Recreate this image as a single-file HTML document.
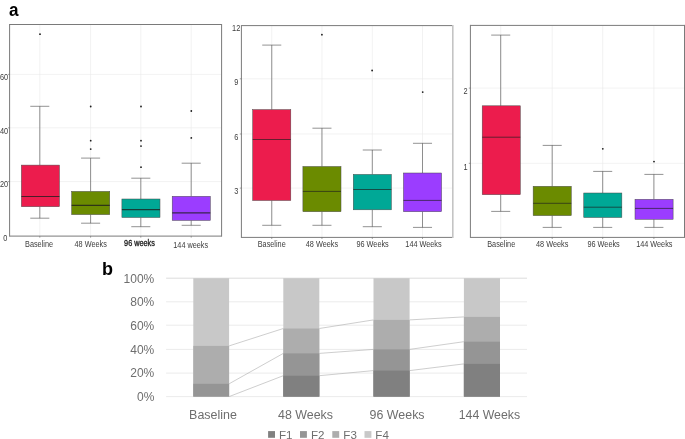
<!DOCTYPE html>
<html><head><meta charset="utf-8"><title>Figure</title>
<style>
html,body{margin:0;padding:0;background:#fff;}
body{width:685px;height:439px;overflow:hidden;position:relative;font-family:"Liberation Sans",sans-serif;}
svg{position:absolute;left:0;top:0;display:block;}
.bx text{font-family:"Liberation Sans",sans-serif;font-size:8.2px;fill:#3c3c3c;}
.bar text{font-family:"Liberation Sans",sans-serif;font-size:12.3px;fill:#6e6e6e;}
.bar text.yl{font-size:12px;}
.bar text.lg{font-size:11.6px;}
text.pl{font-family:"Liberation Sans",sans-serif;font-weight:bold;font-size:18px;fill:#000;}
</style></head><body>
<svg width="685" height="439" viewBox="0 0 685 439">
<rect width="685" height="439" fill="#fff"/>
<text class="pl" transform="translate(8.9,15.8) scale(0.9,1)" style="font-size:19px">a</text>
<text class="pl" x="102" y="275.2">b</text>
<g class="bx">
<line x1="9.6" y1="74.4" x2="221.6" y2="74.4" stroke="#e9e9e9" stroke-width="0.6"/>
<line x1="9.6" y1="127.8" x2="221.6" y2="127.8" stroke="#e9e9e9" stroke-width="0.6"/>
<line x1="9.6" y1="181.6" x2="221.6" y2="181.6" stroke="#e9e9e9" stroke-width="0.6"/>
<line x1="39.8" y1="24.5" x2="39.8" y2="236.1" stroke="#e9e9e9" stroke-width="0.6"/>
<line x1="90.6" y1="24.5" x2="90.6" y2="236.1" stroke="#e9e9e9" stroke-width="0.6"/>
<line x1="140.8" y1="24.5" x2="140.8" y2="236.1" stroke="#e9e9e9" stroke-width="0.6"/>
<line x1="191.2" y1="24.5" x2="191.2" y2="236.1" stroke="#e9e9e9" stroke-width="0.6"/>
<g stroke="#4f4f4f" stroke-width="0.62" fill="none"><line x1="39.8" y1="106.3" x2="39.8" y2="165.1"/><line x1="39.8" y1="206.7" x2="39.8" y2="218.2"/><line x1="30.27" y1="106.3" x2="49.32" y2="106.3"/><line x1="30.27" y1="218.2" x2="49.32" y2="218.2"/></g>
<rect x="21.35" y="165.1" width="38.1" height="41.60" fill="#EC1C4D" stroke="#4a4a4a" stroke-width="0.5"/>
<line x1="21.35" y1="196.5" x2="59.45" y2="196.5" stroke="#1e1e1e" stroke-opacity="0.78" stroke-width="1.15"/>
<g stroke="#4f4f4f" stroke-width="0.62" fill="none"><line x1="90.6" y1="158.1" x2="90.6" y2="191.4"/><line x1="90.6" y1="214.6" x2="90.6" y2="223.2"/><line x1="81.07" y1="158.1" x2="100.12" y2="158.1"/><line x1="81.07" y1="223.2" x2="100.12" y2="223.2"/></g>
<rect x="71.65" y="191.4" width="38.1" height="23.20" fill="#6B8B00" stroke="#4a4a4a" stroke-width="0.5"/>
<line x1="71.65" y1="205.3" x2="109.75" y2="205.3" stroke="#1e1e1e" stroke-opacity="0.78" stroke-width="1.15"/>
<g stroke="#4f4f4f" stroke-width="0.62" fill="none"><line x1="140.8" y1="178.2" x2="140.8" y2="199.0"/><line x1="140.8" y1="217.5" x2="140.8" y2="226.7"/><line x1="131.28" y1="178.2" x2="150.33" y2="178.2"/><line x1="131.28" y1="226.7" x2="150.33" y2="226.7"/></g>
<rect x="121.90" y="199.0" width="38.1" height="18.50" fill="#00A896" stroke="#4a4a4a" stroke-width="0.5"/>
<line x1="121.90" y1="209.6" x2="160.00" y2="209.6" stroke="#1e1e1e" stroke-opacity="0.78" stroke-width="1.15"/>
<g stroke="#4f4f4f" stroke-width="0.62" fill="none"><line x1="191.2" y1="163.2" x2="191.2" y2="196.3"/><line x1="191.2" y1="220.4" x2="191.2" y2="225.3"/><line x1="181.67" y1="163.2" x2="200.72" y2="163.2"/><line x1="181.67" y1="225.3" x2="200.72" y2="225.3"/></g>
<rect x="172.20" y="196.3" width="38.1" height="24.10" fill="#9B3DFF" stroke="#4a4a4a" stroke-width="0.5"/>
<line x1="172.20" y1="212.8" x2="210.30" y2="212.8" stroke="#1e1e1e" stroke-opacity="0.78" stroke-width="1.15"/>
<circle cx="40.0" cy="34.2" r="0.9" fill="#1c1c1c"/>
<circle cx="90.7" cy="106.5" r="0.9" fill="#1c1c1c"/>
<circle cx="90.7" cy="140.7" r="0.9" fill="#1c1c1c"/>
<circle cx="90.7" cy="149.1" r="0.9" fill="#1c1c1c"/>
<circle cx="141" cy="106.5" r="0.9" fill="#1c1c1c"/>
<circle cx="141" cy="140.7" r="0.9" fill="#1c1c1c"/>
<circle cx="141" cy="146.1" r="0.9" fill="#1c1c1c"/>
<circle cx="141" cy="167.2" r="0.9" fill="#1c1c1c"/>
<circle cx="191.3" cy="111" r="0.9" fill="#1c1c1c"/>
<circle cx="191.3" cy="137.9" r="0.9" fill="#1c1c1c"/>
<line x1="9.6" y1="24.5" x2="221.6" y2="24.5" stroke="#7a7a7a" stroke-width="1"/>
<line x1="9.6" y1="24.0" x2="9.6" y2="236.6" stroke="#7a7a7a" stroke-width="1"/>
<line x1="9.6" y1="236.1" x2="221.6" y2="236.1" stroke="#7a7a7a" stroke-width="1"/>
<line x1="221.6" y1="24.0" x2="221.6" y2="236.6" stroke="#7a7a7a" stroke-width="1.0"/>
<line x1="39.8" y1="236.1" x2="39.8" y2="237.7" stroke="#666" stroke-width="0.6"/>
<line x1="90.6" y1="236.1" x2="90.6" y2="237.7" stroke="#666" stroke-width="0.6"/>
<line x1="140.8" y1="236.1" x2="140.8" y2="237.7" stroke="#666" stroke-width="0.6"/>
<line x1="191.2" y1="236.1" x2="191.2" y2="237.7" stroke="#666" stroke-width="0.6"/>
<line x1="8.0" y1="74.4" x2="9.6" y2="74.4" stroke="#666" stroke-width="0.6"/>
<line x1="8.0" y1="127.8" x2="9.6" y2="127.8" stroke="#666" stroke-width="0.6"/>
<line x1="8.0" y1="181.6" x2="9.6" y2="181.6" stroke="#666" stroke-width="0.6"/>
<text transform="translate(39.0,246.8) scale(0.89,1)" text-anchor="middle" >Baseline</text>
<text transform="translate(90.7,246.8) scale(0.89,1)" text-anchor="middle" >48 Weeks</text>
<text transform="translate(139.5,246.4) scale(0.89,1)" text-anchor="middle" style="fill:#1a1a1a;stroke:#1a1a1a;stroke-width:0.3px">96 weeks</text>
<text transform="translate(190.7,247.5) scale(0.89,1)" text-anchor="middle" >144 weeks</text>
<text transform="translate(8.2,80.2) scale(0.9,1)" text-anchor="end">60</text>
<text transform="translate(8.2,133.6) scale(0.9,1)" text-anchor="end">40</text>
<text transform="translate(8.2,187.3) scale(0.9,1)" text-anchor="end">20</text>
<text transform="translate(7.4,240.5) scale(0.9,1)" text-anchor="end">0</text>
<line x1="241.4" y1="78.8" x2="452.8" y2="78.8" stroke="#e9e9e9" stroke-width="0.6"/>
<line x1="241.4" y1="134.0" x2="452.8" y2="134.0" stroke="#e9e9e9" stroke-width="0.6"/>
<line x1="241.4" y1="188.1" x2="452.8" y2="188.1" stroke="#e9e9e9" stroke-width="0.6"/>
<line x1="271.75" y1="25.6" x2="271.75" y2="237.4" stroke="#e9e9e9" stroke-width="0.6"/>
<line x1="321.95" y1="25.6" x2="321.95" y2="237.4" stroke="#e9e9e9" stroke-width="0.6"/>
<line x1="372.3" y1="25.6" x2="372.3" y2="237.4" stroke="#e9e9e9" stroke-width="0.6"/>
<line x1="422.5" y1="25.6" x2="422.5" y2="237.4" stroke="#e9e9e9" stroke-width="0.6"/>
<g stroke="#4f4f4f" stroke-width="0.62" fill="none"><line x1="271.75" y1="45.1" x2="271.75" y2="109.6"/><line x1="271.75" y1="200.5" x2="271.75" y2="225.3"/><line x1="262.23" y1="45.1" x2="281.27" y2="45.1"/><line x1="262.23" y1="225.3" x2="281.27" y2="225.3"/></g>
<rect x="252.70" y="109.6" width="38.1" height="90.90" fill="#EC1C4D" stroke="#4a4a4a" stroke-width="0.5"/>
<line x1="252.70" y1="139.5" x2="290.80" y2="139.5" stroke="#1e1e1e" stroke-opacity="0.78" stroke-width="0.85"/>
<g stroke="#4f4f4f" stroke-width="0.62" fill="none"><line x1="321.95" y1="128.2" x2="321.95" y2="166.5"/><line x1="321.95" y1="211.7" x2="321.95" y2="225.3"/><line x1="312.43" y1="128.2" x2="331.47" y2="128.2"/><line x1="312.43" y1="225.3" x2="331.47" y2="225.3"/></g>
<rect x="302.90" y="166.5" width="38.1" height="45.20" fill="#6B8B00" stroke="#4a4a4a" stroke-width="0.5"/>
<line x1="302.90" y1="191.4" x2="341.00" y2="191.4" stroke="#1e1e1e" stroke-opacity="0.78" stroke-width="0.85"/>
<g stroke="#4f4f4f" stroke-width="0.62" fill="none"><line x1="372.3" y1="150.0" x2="372.3" y2="174.4"/><line x1="372.3" y1="209.8" x2="372.3" y2="226.7"/><line x1="362.78" y1="150.0" x2="381.82" y2="150.0"/><line x1="362.78" y1="226.7" x2="381.82" y2="226.7"/></g>
<rect x="353.25" y="174.4" width="38.1" height="35.40" fill="#00A896" stroke="#4a4a4a" stroke-width="0.5"/>
<line x1="353.25" y1="189.5" x2="391.35" y2="189.5" stroke="#1e1e1e" stroke-opacity="0.78" stroke-width="0.85"/>
<g stroke="#4f4f4f" stroke-width="0.62" fill="none"><line x1="422.5" y1="143.3" x2="422.5" y2="173.0"/><line x1="422.5" y1="211.7" x2="422.5" y2="227.4"/><line x1="412.98" y1="143.3" x2="432.02" y2="143.3"/><line x1="412.98" y1="227.4" x2="432.02" y2="227.4"/></g>
<rect x="403.45" y="173.0" width="38.1" height="38.70" fill="#9B3DFF" stroke="#4a4a4a" stroke-width="0.5"/>
<line x1="403.45" y1="200.4" x2="441.55" y2="200.4" stroke="#1e1e1e" stroke-opacity="0.78" stroke-width="0.85"/>
<circle cx="321.9" cy="34.7" r="0.9" fill="#1c1c1c"/>
<circle cx="372.1" cy="70.5" r="0.9" fill="#1c1c1c"/>
<circle cx="422.7" cy="92.1" r="0.9" fill="#1c1c1c"/>
<line x1="241.4" y1="25.6" x2="452.8" y2="25.6" stroke="#7a7a7a" stroke-width="1"/>
<line x1="241.4" y1="25.1" x2="241.4" y2="237.9" stroke="#7a7a7a" stroke-width="1"/>
<line x1="241.4" y1="237.4" x2="452.8" y2="237.4" stroke="#7a7a7a" stroke-width="1"/>
<line x1="452.8" y1="25.1" x2="452.8" y2="237.9" stroke="#c4c4c4" stroke-width="1.6"/>
<line x1="271.75" y1="237.4" x2="271.75" y2="239.0" stroke="#666" stroke-width="0.6"/>
<line x1="321.95" y1="237.4" x2="321.95" y2="239.0" stroke="#666" stroke-width="0.6"/>
<line x1="372.3" y1="237.4" x2="372.3" y2="239.0" stroke="#666" stroke-width="0.6"/>
<line x1="422.5" y1="237.4" x2="422.5" y2="239.0" stroke="#666" stroke-width="0.6"/>
<line x1="239.8" y1="78.8" x2="241.4" y2="78.8" stroke="#666" stroke-width="0.6"/>
<line x1="239.8" y1="134.0" x2="241.4" y2="134.0" stroke="#666" stroke-width="0.6"/>
<line x1="239.8" y1="188.1" x2="241.4" y2="188.1" stroke="#666" stroke-width="0.6"/>
<text transform="translate(271.7,246.8) scale(0.89,1)" text-anchor="middle" >Baseline</text>
<text transform="translate(321.9,246.8) scale(0.89,1)" text-anchor="middle" >48 Weeks</text>
<text transform="translate(372.6,246.8) scale(0.89,1)" text-anchor="middle" >96 Weeks</text>
<text transform="translate(423.5,246.8) scale(0.89,1)" text-anchor="middle" >144 Weeks</text>
<text transform="translate(240.3,30.7) scale(0.9,1)" text-anchor="end">12</text>
<text transform="translate(238.3,85.4) scale(0.9,1)" text-anchor="end">9</text>
<text transform="translate(238.3,139.8) scale(0.9,1)" text-anchor="end">6</text>
<text transform="translate(238.3,194.3) scale(0.9,1)" text-anchor="end">3</text>
<line x1="470.4" y1="88.1" x2="684.5" y2="88.1" stroke="#e9e9e9" stroke-width="0.6"/>
<line x1="470.4" y1="163.3" x2="684.5" y2="163.3" stroke="#e9e9e9" stroke-width="0.6"/>
<line x1="500.7" y1="25.4" x2="500.7" y2="237.4" stroke="#e9e9e9" stroke-width="0.6"/>
<line x1="552.2" y1="25.4" x2="552.2" y2="237.4" stroke="#e9e9e9" stroke-width="0.6"/>
<line x1="602.7" y1="25.4" x2="602.7" y2="237.4" stroke="#e9e9e9" stroke-width="0.6"/>
<line x1="653.9" y1="25.4" x2="653.9" y2="237.4" stroke="#e9e9e9" stroke-width="0.6"/>
<g stroke="#4f4f4f" stroke-width="0.62" fill="none"><line x1="500.7" y1="35.1" x2="500.7" y2="105.8"/><line x1="500.7" y1="194.7" x2="500.7" y2="211.4"/><line x1="491.18" y1="35.1" x2="510.22" y2="35.1"/><line x1="491.18" y1="211.4" x2="510.22" y2="211.4"/></g>
<rect x="482.20" y="105.8" width="38.1" height="88.90" fill="#EC1C4D" stroke="#4a4a4a" stroke-width="0.5"/>
<line x1="482.20" y1="137.2" x2="520.30" y2="137.2" stroke="#1e1e1e" stroke-opacity="0.78" stroke-width="0.85"/>
<g stroke="#4f4f4f" stroke-width="0.62" fill="none"><line x1="552.2" y1="145.4" x2="552.2" y2="186.3"/><line x1="552.2" y1="215.6" x2="552.2" y2="227.4"/><line x1="542.68" y1="145.4" x2="561.73" y2="145.4"/><line x1="542.68" y1="227.4" x2="561.73" y2="227.4"/></g>
<rect x="533.15" y="186.3" width="38.1" height="29.30" fill="#6B8B00" stroke="#4a4a4a" stroke-width="0.5"/>
<line x1="533.15" y1="203.3" x2="571.25" y2="203.3" stroke="#1e1e1e" stroke-opacity="0.78" stroke-width="0.85"/>
<g stroke="#4f4f4f" stroke-width="0.62" fill="none"><line x1="602.7" y1="171.4" x2="602.7" y2="193.0"/><line x1="602.7" y1="217.5" x2="602.7" y2="227.4"/><line x1="593.18" y1="171.4" x2="612.23" y2="171.4"/><line x1="593.18" y1="227.4" x2="612.23" y2="227.4"/></g>
<rect x="583.75" y="193.0" width="38.1" height="24.50" fill="#00A896" stroke="#4a4a4a" stroke-width="0.5"/>
<line x1="583.75" y1="207.2" x2="621.85" y2="207.2" stroke="#1e1e1e" stroke-opacity="0.78" stroke-width="0.85"/>
<g stroke="#4f4f4f" stroke-width="0.62" fill="none"><line x1="653.9" y1="174.4" x2="653.9" y2="199.3"/><line x1="653.9" y1="219.3" x2="653.9" y2="227.4"/><line x1="644.38" y1="174.4" x2="663.42" y2="174.4"/><line x1="644.38" y1="227.4" x2="663.42" y2="227.4"/></g>
<rect x="635.00" y="199.3" width="38.1" height="20.00" fill="#9B3DFF" stroke="#4a4a4a" stroke-width="0.5"/>
<line x1="635.00" y1="208.4" x2="673.10" y2="208.4" stroke="#1e1e1e" stroke-opacity="0.78" stroke-width="0.85"/>
<circle cx="602.8" cy="148.8" r="0.9" fill="#1c1c1c"/>
<circle cx="654.0" cy="161.6" r="0.9" fill="#1c1c1c"/>
<line x1="470.4" y1="25.4" x2="684.5" y2="25.4" stroke="#7a7a7a" stroke-width="1"/>
<line x1="470.4" y1="24.9" x2="470.4" y2="237.9" stroke="#7a7a7a" stroke-width="1"/>
<line x1="470.4" y1="237.4" x2="684.5" y2="237.4" stroke="#7a7a7a" stroke-width="1"/>
<line x1="684.5" y1="24.9" x2="684.5" y2="237.9" stroke="#7a7a7a" stroke-width="1.0"/>
<line x1="500.7" y1="237.4" x2="500.7" y2="239.0" stroke="#666" stroke-width="0.6"/>
<line x1="552.2" y1="237.4" x2="552.2" y2="239.0" stroke="#666" stroke-width="0.6"/>
<line x1="602.7" y1="237.4" x2="602.7" y2="239.0" stroke="#666" stroke-width="0.6"/>
<line x1="653.9" y1="237.4" x2="653.9" y2="239.0" stroke="#666" stroke-width="0.6"/>
<line x1="468.79999999999995" y1="88.1" x2="470.4" y2="88.1" stroke="#666" stroke-width="0.6"/>
<line x1="468.79999999999995" y1="163.3" x2="470.4" y2="163.3" stroke="#666" stroke-width="0.6"/>
<text transform="translate(501.2,246.8) scale(0.89,1)" text-anchor="middle" >Baseline</text>
<text transform="translate(552.2,246.8) scale(0.89,1)" text-anchor="middle" >48 Weeks</text>
<text transform="translate(603.6,246.8) scale(0.89,1)" text-anchor="middle" >96 Weeks</text>
<text transform="translate(654.3,246.8) scale(0.89,1)" text-anchor="middle" >144 Weeks</text>
<text transform="translate(467.7,94.3) scale(0.9,1)" text-anchor="end">2</text>
<text transform="translate(467.7,169.8) scale(0.9,1)" text-anchor="end">1</text>
</g>
<g class="bar">
<line x1="166.1" y1="278.2" x2="527" y2="278.2" stroke="#d4d4d4" stroke-width="0.8"/>
<text class="yl" x="154.3" y="282.5" text-anchor="end">100%</text>
<line x1="166.1" y1="301.8" x2="527" y2="301.8" stroke="#e6e6e6" stroke-width="0.8"/>
<text class="yl" x="154.3" y="306.1" text-anchor="end">80%</text>
<line x1="166.1" y1="325.2" x2="527" y2="325.2" stroke="#e6e6e6" stroke-width="0.8"/>
<text class="yl" x="154.3" y="329.5" text-anchor="end">60%</text>
<line x1="166.1" y1="349.4" x2="527" y2="349.4" stroke="#e6e6e6" stroke-width="0.8"/>
<text class="yl" x="154.3" y="353.7" text-anchor="end">40%</text>
<line x1="166.1" y1="373.1" x2="527" y2="373.1" stroke="#e6e6e6" stroke-width="0.8"/>
<text class="yl" x="154.3" y="377.4" text-anchor="end">20%</text>
<line x1="166.1" y1="396.6" x2="527" y2="396.6" stroke="#e6e6e6" stroke-width="0.8"/>
<text class="yl" x="154.3" y="400.9" text-anchor="end">0%</text>
<line x1="229.1" y1="345.9" x2="283.3" y2="328.5" stroke="#a6a6a6" stroke-width="0.55"/>
<line x1="229.1" y1="383.8" x2="283.3" y2="353.4" stroke="#a6a6a6" stroke-width="0.55"/>
<line x1="229.1" y1="396.6" x2="283.3" y2="375.7" stroke="#a6a6a6" stroke-width="0.55"/>
<line x1="319.3" y1="328.5" x2="373.5" y2="319.9" stroke="#a6a6a6" stroke-width="0.55"/>
<line x1="319.3" y1="353.4" x2="373.5" y2="349.4" stroke="#a6a6a6" stroke-width="0.55"/>
<line x1="319.3" y1="375.7" x2="373.5" y2="370.6" stroke="#a6a6a6" stroke-width="0.55"/>
<line x1="409.6" y1="319.9" x2="463.9" y2="316.9" stroke="#a6a6a6" stroke-width="0.55"/>
<line x1="409.6" y1="349.4" x2="463.9" y2="341.7" stroke="#a6a6a6" stroke-width="0.55"/>
<line x1="409.6" y1="370.6" x2="463.9" y2="363.9" stroke="#a6a6a6" stroke-width="0.55"/>
<rect x="193.3" y="278.2" width="35.8" height="118.4" fill="#c8c8c8"/>
<rect x="193.3" y="345.9" width="35.8" height="50.7" fill="#adadad"/>
<rect x="193.3" y="383.8" width="35.8" height="12.8" fill="#959595"/>
<rect x="283.3" y="278.2" width="36.0" height="118.4" fill="#c8c8c8"/>
<rect x="283.3" y="328.5" width="36.0" height="68.1" fill="#adadad"/>
<rect x="283.3" y="353.4" width="36.0" height="43.2" fill="#959595"/>
<rect x="283.3" y="375.7" width="36.0" height="20.9" fill="#808080"/>
<rect x="373.5" y="278.2" width="36.1" height="118.4" fill="#c8c8c8"/>
<rect x="373.5" y="319.9" width="36.1" height="76.7" fill="#adadad"/>
<rect x="373.5" y="349.4" width="36.1" height="47.2" fill="#959595"/>
<rect x="373.5" y="370.6" width="36.1" height="26.0" fill="#808080"/>
<rect x="463.9" y="278.2" width="36.1" height="118.4" fill="#c8c8c8"/>
<rect x="463.9" y="316.9" width="36.1" height="79.7" fill="#adadad"/>
<rect x="463.9" y="341.7" width="36.1" height="54.9" fill="#959595"/>
<rect x="463.9" y="363.9" width="36.1" height="32.7" fill="#808080"/>
<text x="213" y="419.3" text-anchor="middle" textLength="47.8" lengthAdjust="spacingAndGlyphs">Baseline</text>
<text x="305.5" y="419.3" text-anchor="middle" textLength="55.0" lengthAdjust="spacingAndGlyphs">48 Weeks</text>
<text x="397.1" y="419.3" text-anchor="middle" textLength="55.0" lengthAdjust="spacingAndGlyphs">96 Weeks</text>
<text x="489.4" y="419.3" text-anchor="middle" textLength="61.3" lengthAdjust="spacingAndGlyphs">144 Weeks</text>
<rect x="268.1" y="431.1" width="6.9" height="6.7" fill="#808080"/>
<text class="lg" x="279.0" y="438.9">F1</text>
<rect x="300.0" y="431.1" width="6.9" height="6.7" fill="#959595"/>
<text class="lg" x="311.0" y="438.9">F2</text>
<rect x="332.3" y="431.1" width="6.9" height="6.7" fill="#adadad"/>
<text class="lg" x="343.3" y="438.9">F3</text>
<rect x="364.5" y="431.1" width="6.9" height="6.7" fill="#c8c8c8"/>
<text class="lg" x="375.3" y="438.9">F4</text>
</g>
</svg></body></html>
